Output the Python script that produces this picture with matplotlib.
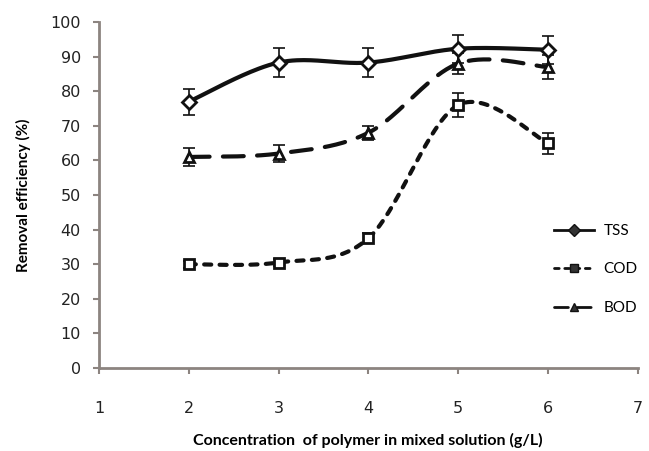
import numpy as np
import matplotlib
matplotlib.use("Agg")
import matplotlib.pyplot as plt
from matplotlib.lines import Line2D

x = [2, 3, 4, 5, 6]
tss = [77, 88.3, 88.3, 92.3, 92]
tss_err = [3.8, 4.2, 4.2, 4, 4]
cod = [30, 30.5, 37.5, 76, 65]
cod_err = [1, 1, 1.5, 3.5, 3]
bod = [61, 62, 68, 88, 87]
bod_err = [2.5, 2.5, 2, 3, 3.5]
labels = ["TSS", "COD", "BOD"]

def smooth(xs, ys, n=40):
    xs = np.asarray(xs, float); ys = np.asarray(ys, float)
    P = np.column_stack([xs, ys])
    out = []
    for i in range(len(P) - 1):
        p0 = P[i - 1] if i > 0 else P[i]
        p1, p2 = P[i], P[i + 1]
        p3 = P[i + 2] if i + 2 < len(P) else P[i + 1]
        c1 = p1 + (p2 - p0) / 6
        c2 = p2 - (p3 - p1) / 6
        t = np.linspace(0, 1, n)[:, None]
        seg = (1 - t) ** 3 * p1 + 3 * (1 - t) ** 2 * t * c1 + 3 * (1 - t) * t ** 2 * c2 + t ** 3 * p2
        out.append(seg if i == 0 else seg[1:])
    s = np.vstack(out)
    return s[:, 0], s[:, 1]

fig = plt.figure(figsize=(6.49, 4.51), dpi=100)
ax = fig.add_axes([0.1525, 0.184, 0.83, 0.767])

gray = "#8c8480"
ink = "#111111"
series = [
    (tss, tss_err, "-", "D"),
    (cod, cod_err, (0, (1.7, 2.0)), "s"),
    (bod, bod_err, (0, (5.0, 3.2)), "^"),
]
handles = []
for (ys, es, ls, mk), lab in zip(series, labels):
    sx, sy = smooth(x, ys)
    ax.plot(sx, sy, color=ink, lw=3, linestyle=ls, zorder=2,
            solid_capstyle="round", dash_capstyle="round")
    ax.errorbar(x, ys, yerr=es, fmt="none", ecolor=ink, elinewidth=1.2,
                capsize=4, capthick=1.2, zorder=3)
    ax.plot(x, ys, linestyle="none", marker=mk, markersize=7, markerfacecolor="white",
            markeredgecolor=ink, markeredgewidth=2, zorder=4)
    handles.append(Line2D([], [], color=ink, lw=2, linestyle=ls, marker=mk,
                          markersize=6, markerfacecolor="#333333",
                          markeredgecolor=ink, label=lab,
                          dash_capstyle="round"))

ax.set_xlim(1, 7)
ax.set_ylim(0, 100)
ax.set_xticks(range(1, 8))
ax.set_yticks(range(0, 101, 10))
for s in ["top", "right"]:
    ax.spines[s].set_visible(False)
for s in ["left", "bottom"]:
    ax.spines[s].set_color(gray)
    ax.spines[s].set_linewidth(2)
ax.tick_params(axis="both", colors=gray, direction="out", length=4, width=1.5,
               labelsize=11.5, labelcolor="#222222")
ax.tick_params(axis="x", pad=20)
ax.tick_params(axis="y", pad=9)

ax.set_xlabel("Concentration  of polymer in mixed solution (g/L)", fontsize=11.5,
              fontweight="bold", family="Lato", labelpad=12)
ax.set_ylabel("Removal efficiency (%)", fontsize=11, fontweight="bold", family="Lato",
              labelpad=14)

leg = ax.legend(handles=handles, loc="center left", bbox_to_anchor=(0.82, 0.285),
                frameon=False, handlelength=2.6, handletextpad=0.6, labelspacing=1.6,
                prop={"family": "Lato", "size": 11})

fig.savefig("out.png", dpi=100)
